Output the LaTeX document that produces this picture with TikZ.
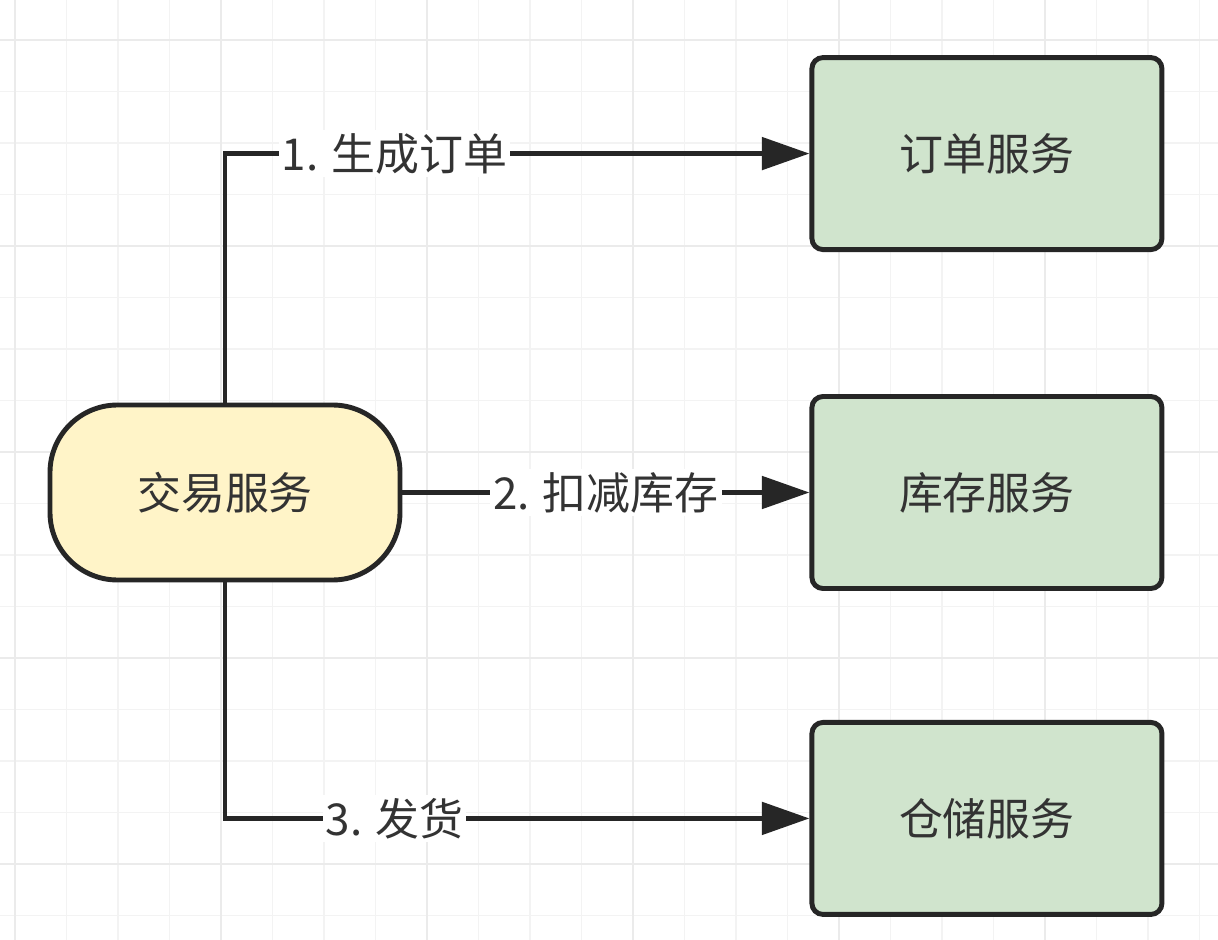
\documentclass[tikz,border=0pt]{standalone}
\usepackage{fontspec}
\setmainfont{Noto Sans CJK SC}
\usepackage{tikz}
\usetikzlibrary{arrows.meta,positioning,calc}
\usepackage{xcolor}
\definecolor{tradeyellow}{HTML}{FFF4C8}
\definecolor{servicegreen}{HTML}{D0E4CD}
\definecolor{linedark}{HTML}{262626}
\definecolor{textdark}{HTML}{333333}
\definecolor{gridminor}{HTML}{F3F3F3}
\definecolor{gridmajor}{HTML}{EBEBEB}

\begin{document}
\begin{tikzpicture}[
    every node/.style={font=\fontsize{25}{30}\selectfont, text=textdark},
    trade/.style={rectangle, draw=linedark, line width=2.8pt, fill=tradeyellow, rounded corners=1.35cm, minimum width=7cm, minimum height=3.5cm},
    service/.style={rectangle, draw=linedark, line width=2.8pt, fill=servicegreen, rounded corners=0.22cm, minimum width=7cm, minimum height=3.84cm},
    call/.style={draw=linedark, line width=2.8pt, -{Triangle[length=0.95cm, width=0.64cm]}},
    label/.style={fill=white, inner sep=0.06cm}
]
    \useasboundingbox (0,0) rectangle (24.36,-18.8);
    \fill[white] (0,0) rectangle (24.36,-18.8);

    % Grid
    \draw[gridminor, line width=0.9pt, step=1.03cm, shift={(0.3,-0.8)}] (-0.3,0.8) grid (24.06,-18.0);
    \draw[gridmajor, line width=0.9pt, step=4.12cm, shift={(0.3,-0.8)}] (-0.3,0.8) grid (24.06,-18.0);

    % Caller
    \node[trade] (trade) at (4.5,-9.85) {交易服务};

    % Services
    \node[service, right=8.14cm of trade] (stock) {库存服务};
    \node[service, above=2.84cm of stock] (order) {订单服务};
    \node[service, below=2.58cm of stock] (store) {仓储服务};

    % Calls
    \draw[call] (trade.north) |- (order.west) node[label, pos=0.645] {1. 生成订单};
    \draw[call] (trade.east) -- (stock.west) node[label, midway] {2. 扣减库存};
    \draw[call] (trade.south) |- (store.west) node[label, pos=0.645] {3. 发货};
\end{tikzpicture}
\end{document}
